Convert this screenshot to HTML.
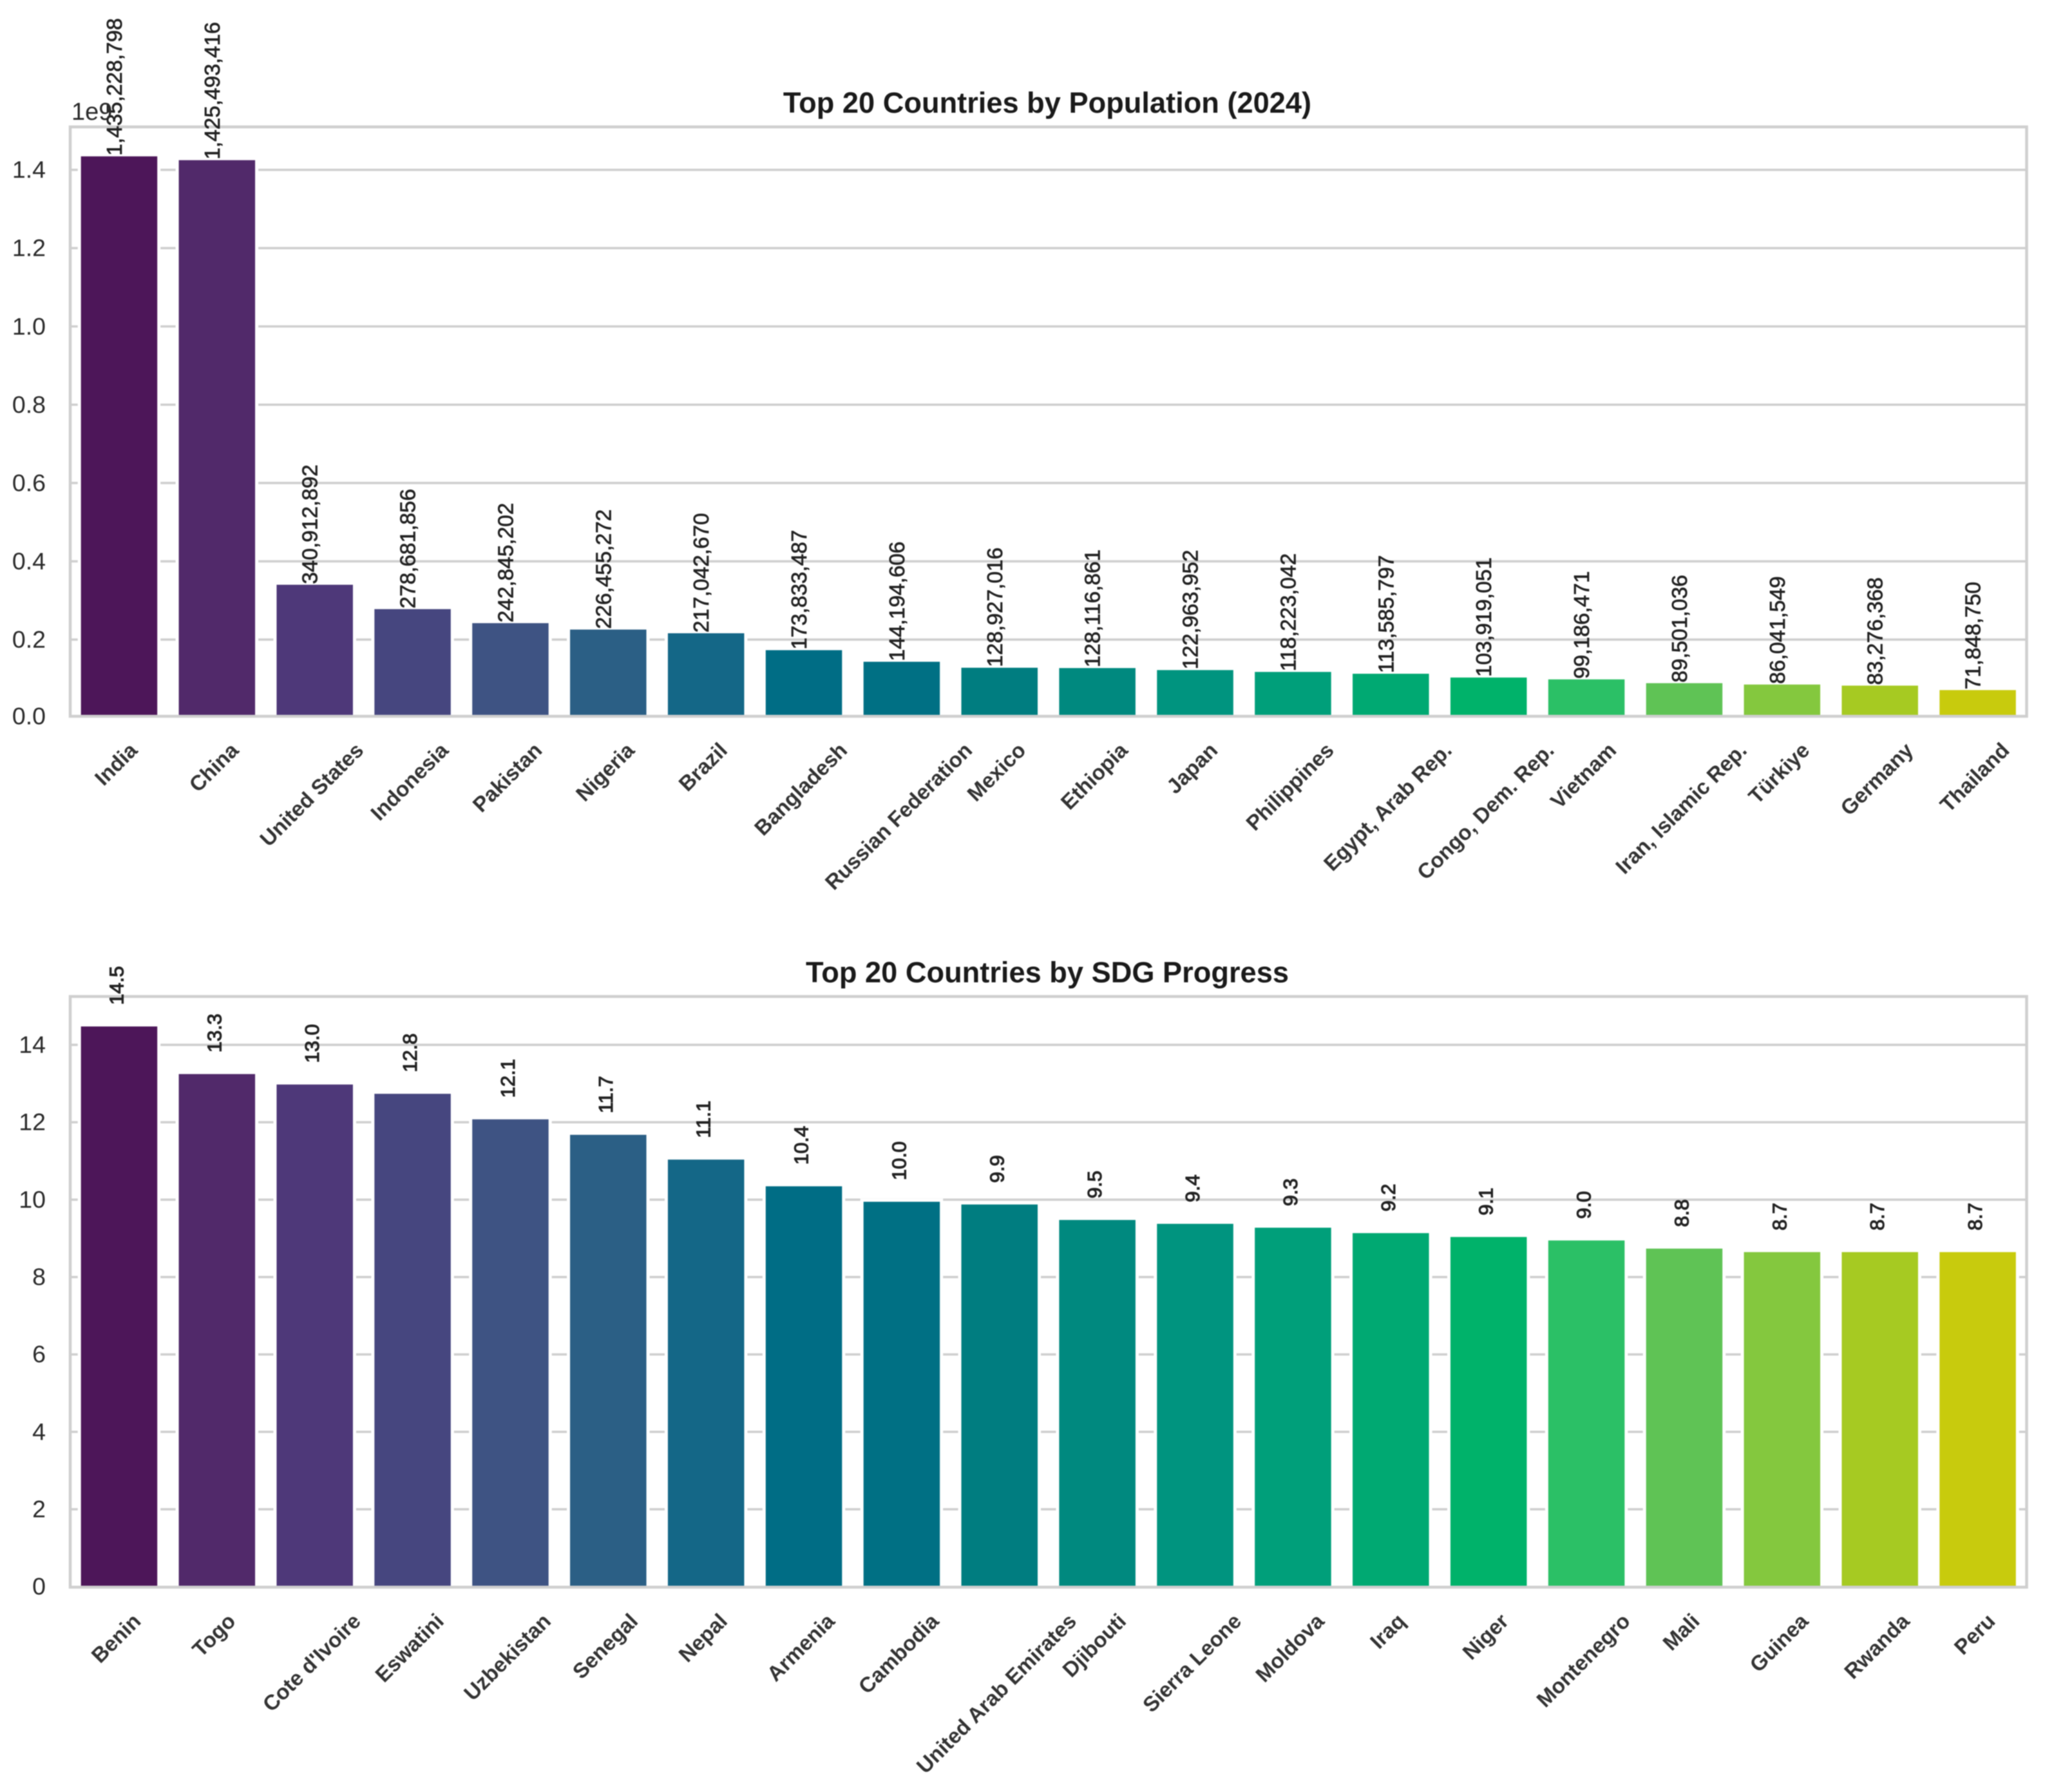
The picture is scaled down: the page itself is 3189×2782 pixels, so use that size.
<!DOCTYPE html>
<html lang="en">
<head>
<meta charset="utf-8">
<title>Top 20 Countries by Population and SDG Progress</title>
<style>
html,body{margin:0;padding:0;background:#fff;}
#chart{display:block;filter:blur(0.9px);}
text{font-family:"Liberation Sans",Arial,sans-serif;}
</style>
</head>
<body>
<svg id="chart" xmlns="http://www.w3.org/2000/svg" width="3189" height="2782" viewBox="0 0 3189 2782">
<rect x="0" y="0" width="3189" height="2782" fill="#ffffff"/>
</svg>
<script>
const popCountries = ["India","China","United States","Indonesia","Pakistan","Nigeria","Brazil","Bangladesh","Russian Federation","Mexico","Ethiopia","Japan","Philippines","Egypt, Arab Rep.","Congo, Dem. Rep.","Vietnam","Iran, Islamic Rep.","Türkiye","Germany","Thailand"];
const popValues = [1435228798,1425493416,340912892,278681856,242845202,226455272,217042670,173833487,144194606,128927016,128116861,122963952,118223042,113585797,103919051,99186471,89501036,86041549,83276368,71848750];
const popTicks = [0,0.2e9,0.4e9,0.6e9,0.8e9,1.0e9,1.2e9,1.4e9];
const popTickLabels = ["0.0","0.2","0.4","0.6","0.8","1.0","1.2","1.4"];
const sdgCountries = ["Benin","Togo","Cote d'Ivoire","Eswatini","Uzbekistan","Senegal","Nepal","Armenia","Cambodia","United Arab Emirates","Djibouti","Sierra Leone","Moldova","Iraq","Niger","Montenegro","Mali","Guinea","Rwanda","Peru"];
const sdgValues = [14.5,13.27,13.0,12.76,12.1,11.7,11.06,10.37,9.97,9.9,9.5,9.4,9.3,9.16,9.06,8.97,8.76,8.67,8.67,8.67];
const sdgTicks = [0,2,4,6,8,10,12,14];
const sdgTickLabels = ["0","2","4","6","8","10","12","14"];
const barPalette = ["#4d1659","#51296a","#4e3879","#46467f","#3e5383","#2b5f85","#146787","#006d85","#007084","#007d80","#00897f","#00947f","#009f7a","#00a972","#00b26a","#2bc066","#5fc355","#84c83e","#a6ca22","#c8cb0d"];

const NS = "http://www.w3.org/2000/svg";
const svg = document.getElementById("chart");
function make(tag, attrs, parent, txt) {
  const el = document.createElementNS(NS, tag);
  for (const k in attrs) el.setAttribute(k, attrs[k]);
  if (txt !== undefined) el.textContent = txt;
  parent.appendChild(el);
  return el;
}

const AX_L = 109, AX_R = 3146.5, BAR_W = 118.5;
const SPINE = "#cfcfcf", INK = "#2a2a2a";

function drawPanel(cfg) {
  const panel = make("g", {}, svg);
  
  

  const yScale = v => cfg.zeroY - v * cfg.unit;
  const xScale = i => AX_L + (i + 0.5) * (AX_R - AX_L) / cfg.categories.length;

  cfg.ticks.forEach((t, i) => {
    const y = yScale(t);
    if (t !== 0) {
      const grid = make("line", {x1: AX_L, x2: AX_R, y1: y, y2: y, stroke: SPINE, "stroke-width": 3.6}, panel);
      
      
    }
    const tick = make("text", {x: 71, y: Math.min(y, cfg.bottom) + 12.5, "text-anchor": "end", "font-size": 37.5, fill: INK}, panel, cfg.tickLabels[i]);
    
    
  });

  cfg.values.forEach((v, i) => {
    const top = yScale(v) + cfg.barInset;
    const bar = make("rect", {
      x: xScale(i) - BAR_W / 2, y: top, width: BAR_W, height: cfg.bottom - top,
      fill: barPalette[i], stroke: "#ffffff", "stroke-width": 10, "paint-order": "stroke"
    }, panel);
    
    
  });

  const frame = make("rect", {x: AX_L, y: cfg.top, width: AX_R - AX_L, height: cfg.bottom - cfg.top, fill: "none", stroke: SPINE, "stroke-width": 4.5}, panel);
  
  

  cfg.values.forEach((v, i) => {
    const x = xScale(i) + cfg.labelDx, y = yScale(v) - cfg.labelGap;
    const val = make("text", {
      x: x, y: y, "text-anchor": "start", "dominant-baseline": "central",
      transform: "rotate(-90 " + x + " " + y + ")",
      "font-size": cfg.valueSize, fill: "#222222", stroke: "#222222", "stroke-width": cfg.valueStroke
    }, panel, cfg.format(v));
    
    
  });

  cfg.categories.forEach((c, i) => {
    const lab = make("text", {"text-anchor": "middle", "dominant-baseline": "central", "font-size": 33, "font-weight": "bold", fill: "#333333"}, panel, c);
    const w = lab.getComputedTextLength();
    const cx = xScale(i) - 5;
    const cy = cfg.bottom + 34 + (w + 36) * Math.SQRT1_2 / 2;
    lab.setAttribute("x", cx);
    lab.setAttribute("y", cy);
    lab.setAttribute("transform", "rotate(-45 " + cx + " " + cy + ")");
    
    
  });

  const title = make("text", {x: 1626, y: cfg.top - 22, "text-anchor": "middle", "font-size": 45.2, "font-weight": "bold", fill: "#1a1a1a"}, panel, cfg.title);
  
  
  return panel;
}

const topPanel = drawPanel({
  name: "population", title: "Top 20 Countries by Population (2024)",
  categories: popCountries, values: popValues, ticks: popTicks, tickLabels: popTickLabels,
  top: 197, bottom: 1112, zeroY: 1114.5, unit: 607.75e-9, barInset: 0.5,
  labelGap: 0.5, labelDx: -6.5, valueSize: 33.4, valueStroke: 0.7,
  format: v => v.toLocaleString("en-US")
});

const offset = make("text", {x: 111, y: 186, "font-size": 38, fill: INK}, topPanel, "1e9");



drawPanel({
  name: "sdg-progress", title: "Top 20 Countries by SDG Progress",
  categories: sdgCountries, values: sdgValues, ticks: sdgTicks, tickLabels: sdgTickLabels,
  top: 1547, bottom: 2464, zeroY: 2463.2, unit: 60.08, barInset: 1.5,
  labelGap: 32, labelDx: -4, valueSize: 31, valueStroke: 1.1,
  format: v => v.toFixed(1)
});
</script>
</body>
</html>
